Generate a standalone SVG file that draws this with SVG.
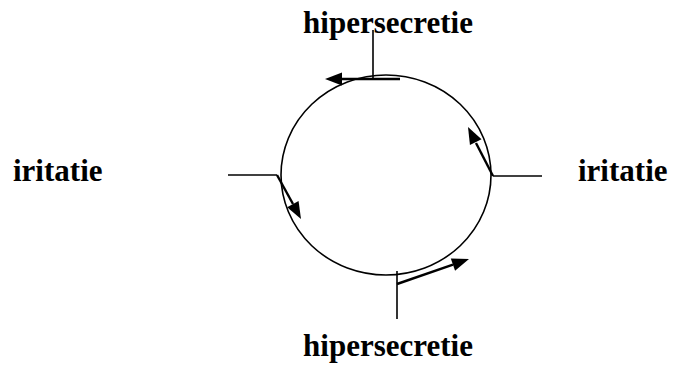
<svg xmlns="http://www.w3.org/2000/svg" width="682" height="368" viewBox="0 0 682 368">
<style>
.lbl{font-family:"Liberation Serif","Times New Roman",serif;font-weight:bold;font-size:31px;fill:#000}
.ln{stroke:#000;stroke-width:1.6;fill:none}
.ar{stroke:#000;stroke-width:2.4;fill:none}
.hd{fill:#000;stroke:none}
</style>
<rect width="682" height="368" fill="#fff"/>
<g id="cycle">
<ellipse cx="386" cy="175" rx="105" ry="100" class="ln"/>
</g>
<g id="connectors">
<path class="ln" d="M373,30 L373,79"/>
<path class="ar" d="M400,79 L340,79"/>
<polygon class="hd" points="325,79 342,72.5 342,85.5"/>
<path class="ln" d="M228,175 L277,175"/>
<path class="ar" d="M277,175 L293,204"/>
<polygon class="hd" points="301,219 287.15,207.18 298.57,200.96"/>
<path class="ln" d="M542,176 L493,176"/>
<path class="ar" d="M493,176 L476,143"/>
<polygon class="hd" points="468,127 481.52,139.2 469.94,145.1"/>
<path class="ln" d="M397,271 L397,319"/>
<path class="ar" d="M397,284 L453,264.6"/>
<polygon class="hd" points="469,259 455.07,270.72 450.81,258.44"/>
</g>
<g id="top-label"><text class="lbl" x="388" y="33" text-anchor="middle">hipersecretie</text></g>
<g id="left-label"><text class="lbl" x="13" y="181">iritatie</text></g>
<g id="right-label"><text class="lbl" x="578" y="181">iritatie</text></g>
<g id="bottom-label"><text class="lbl" x="388" y="356" text-anchor="middle">hipersecretie</text></g>
</svg>
